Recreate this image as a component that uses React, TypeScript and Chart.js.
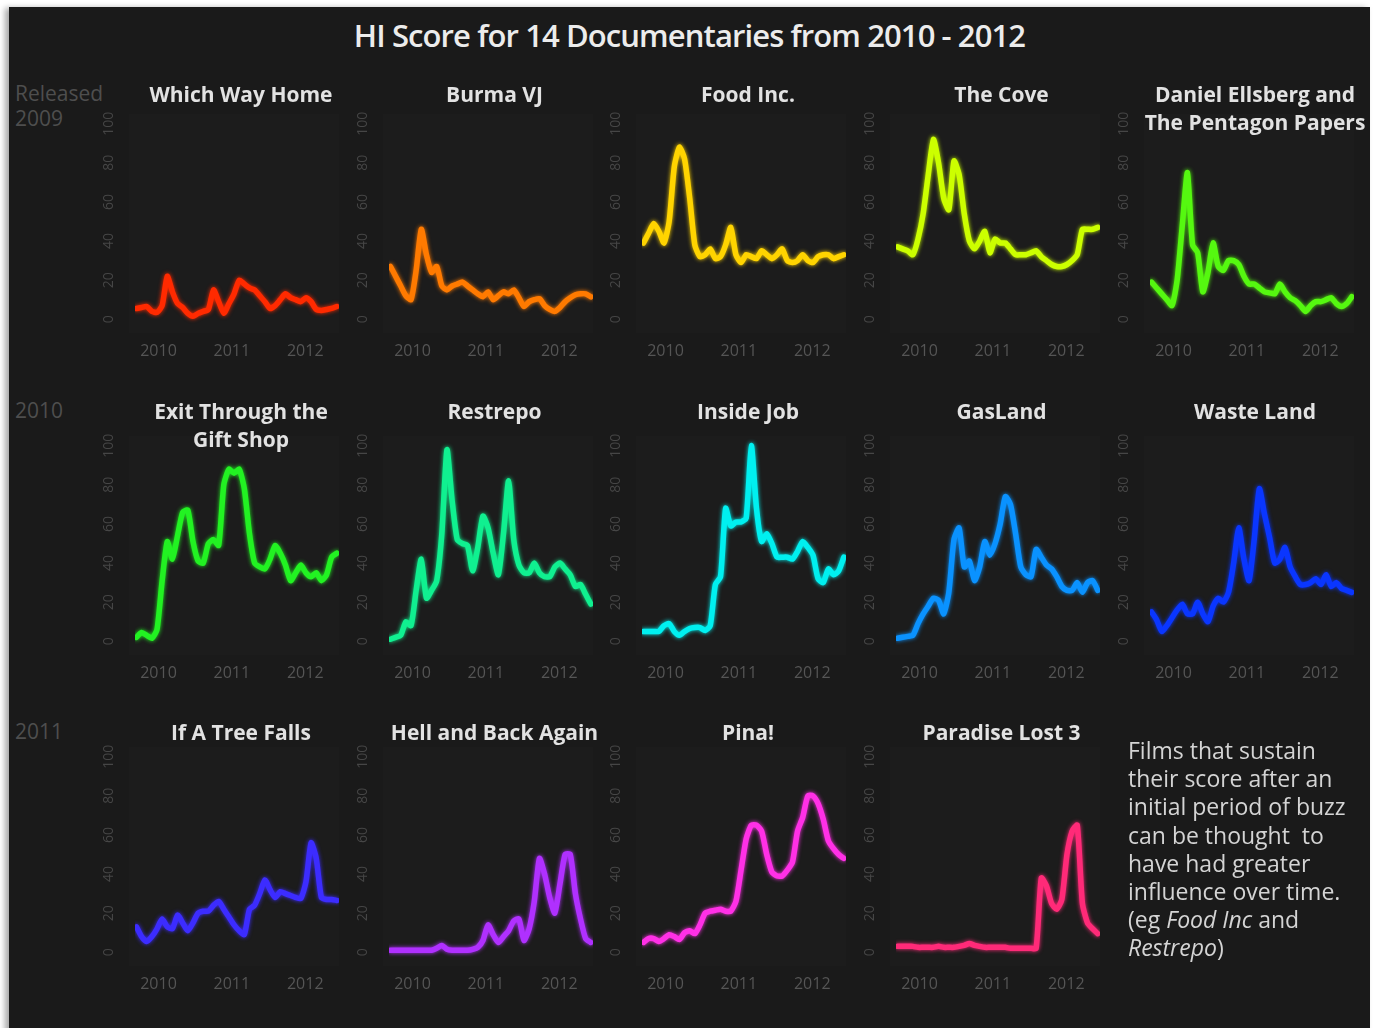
import React, { useEffect, useRef } from "react";
import { Chart, registerables } from "chart.js";

Chart.register(...registerables);

// ---------- data ----------
const timePoints = [
  2009.70, 2009.77, 2009.84, 2009.91, 2009.98, 2010.05, 2010.12, 2010.19, 2010.26, 2010.33,
  2010.40, 2010.47, 2010.54, 2010.61, 2010.68, 2010.75, 2010.82, 2010.89, 2010.96, 2011.03,
  2011.10, 2011.17, 2011.24, 2011.31, 2011.38, 2011.45, 2011.52, 2011.59, 2011.66, 2011.73,
  2011.80, 2011.87, 2011.94, 2012.01, 2012.08, 2012.15, 2012.22, 2012.29, 2012.36, 2012.43,
];
const yearTicks = [2010, 2011, 2012];
const scoreTicks = [0, 20, 40, 60, 80, 100];
const releaseLabels = ["Released\n2009", "2010", "2011"];

const whichWayHome = [5.5, 6, 6.5, 4, 3.5, 7, 22, 14, 8, 6, 3, 1.5, 3, 4, 5, 15, 9, 3, 8, 13, 20, 18, 16, 15, 12, 9, 5.5, 7, 10, 13, 11, 10, 9, 11, 9, 5, 4.5, 5, 5.5, 6.5];
const burmaVJ = [27, 22, 17, 12, 10, 25, 46, 33, 24, 27, 17, 15, 17, 18, 19, 17, 15, 13, 11.5, 14, 10, 12, 14, 13, 15, 11, 6.5, 9, 10, 10.5, 7, 5, 4, 6, 9, 11, 12.5, 13, 13, 11.5];
const foodInc = [39, 44, 49, 45, 39, 50, 78, 88, 82, 62, 38, 32, 33, 36, 31, 32, 38, 47, 33, 29, 33, 32, 31, 35, 33, 31, 33, 36, 30, 29, 30, 33, 30, 29, 32, 33, 33, 31, 32, 33];
const theCove = [37, 36, 35, 33, 41, 54, 74, 92, 80, 62, 56, 81, 74, 54, 40, 36, 40, 45, 34, 41, 39, 39, 36, 33, 33, 33, 34, 35, 32, 30, 28, 27, 27, 28, 30, 33, 46, 46, 46, 47];
const danielEllsberg = [19, 16, 13, 10, 7, 20, 48, 75, 38, 34, 14, 24, 39, 27, 25, 30, 30, 28, 22, 18, 18, 16, 14, 13.5, 13, 18, 14, 11, 9.5, 7, 4, 7, 9, 9, 10, 11, 8, 6.5, 8, 11.5];

const exitThroughGiftShop = [2, 4.5, 3, 1.5, 6, 31, 51, 42, 54, 66, 67, 51, 41, 40, 50, 52, 49, 80, 88, 86, 88, 78, 55, 40, 38, 37, 42, 49, 45, 39, 31, 35, 39, 35, 33, 35, 31, 34, 43, 45];
const restrepo = [1, 2, 3, 10, 8, 26, 42, 22, 26, 31, 55, 98, 72, 52, 50, 49, 36, 48, 64, 58, 45, 34, 55, 82, 52, 39, 35, 35, 40, 35, 33, 33, 38, 40, 37, 34, 28, 29, 24, 19];
const insideJob = [5, 5, 5, 5, 8, 9, 5, 3, 5, 6.5, 7, 7, 5.5, 8, 29, 33, 68, 59, 61, 61, 63, 100, 68, 51, 55, 50, 43, 43, 43, 42, 46, 51, 48, 44, 32, 30, 37, 34, 36, 43];
const gasLand = [1.5, 2, 2.5, 3, 9, 14, 18, 22, 21, 14, 25, 52, 58, 38, 41, 31, 38, 51, 44, 50, 60, 74, 70, 55, 38, 34, 33, 47, 43, 39, 37, 33, 28, 26, 26, 30, 25, 30, 31, 26];
const wasteLand = [15, 11, 5, 8, 12, 16, 19, 14, 14, 20, 14, 10, 18, 22, 20, 25, 40, 58, 42, 31, 52, 78, 65, 53, 40, 42, 48, 38, 33, 29, 29, 30, 32, 29, 34, 28, 30, 27, 26, 25];

const ifATreeFalls = [13, 8, 5.5, 8, 12, 17, 13, 12, 19, 15, 11, 15, 20, 21, 21, 24, 26, 22, 18, 14, 11, 9, 22, 24, 30, 37, 32, 28, 31, 30, 29, 28, 27.5, 36, 56, 48, 28, 27, 27, 26.5];
const hellAndBackAgain = [1, 1, 1, 1, 1, 1, 1, 1, 1, 2, 3.5, 1.5, 1, 1, 1, 1, 1.5, 2.5, 6, 14, 9, 5, 8, 11, 16, 17, 6, 12, 26, 48, 40, 28, 20, 35, 50, 50, 30, 17, 7, 5];
const pina = [5, 7, 7, 5.5, 7, 9, 8, 6.5, 10, 11, 9.5, 14, 20, 21, 21.5, 22, 21, 21, 26, 42, 58, 65, 65, 62, 50, 41, 39, 39, 42, 46, 62, 69, 80, 80, 76, 68, 57, 53, 50, 48];
const paradiseLost3 = [3, 3, 3, 3, 2.5, 2.5, 2.5, 2.5, 3, 2.5, 2.5, 2.5, 3, 3.5, 4.5, 3.5, 3, 2.5, 2.5, 2.5, 2.5, 2.5, 2, 2, 2, 2, 2, 2, 38, 34, 25, 22, 27, 50, 62, 65, 25, 15, 12, 9.5];

type Film = { title: string; color: string; values: number[] };

const released2009: Film[] = [
  { title: "Which Way Home", color: "#ff2a00", values: whichWayHome },
  { title: "Burma VJ", color: "#ff7a00", values: burmaVJ },
  { title: "Food Inc.", color: "#ffd400", values: foodInc },
  { title: "The Cove", color: "#ccff00", values: theCove },
  { title: "Daniel Ellsberg and\nThe Pentagon Papers", color: "#55f810", values: danielEllsberg },
];
const released2010: Film[] = [
  { title: "Exit Through the\nGift Shop", color: "#22f222", values: exitThroughGiftShop },
  { title: "Restrepo", color: "#10f090", values: restrepo },
  { title: "Inside Job", color: "#00f0f0", values: insideJob },
  { title: "GasLand", color: "#0a92ff", values: gasLand },
  { title: "Waste Land", color: "#0a36ff", values: wasteLand },
];
const released2011: Film[] = [
  { title: "If A Tree Falls", color: "#3c2cff", values: ifATreeFalls },
  { title: "Hell and Back Again", color: "#b030ff", values: hellAndBackAgain },
  { title: "Pina!", color: "#ff30e6", values: pina },
  { title: "Paradise Lost 3", color: "#ff2a78", values: paradiseLost3 },
];
const filmRows = [released2009, released2010, released2011];

// ---------- layout ----------
const FONT = "'Open Sans', 'DejaVu Sans', sans-serif";
const COL_STEP = 253.7;
const PLOT_LEFT0 = 135;
const PLOT_W = 204;
const PLOT_H = 215;
const Y_AXIS_W = 40;
const X_AXIS_H = 40;
const TOP_PAD = 26;
const RIGHT_PAD = 8;
const ROW_ZERO = [319, 641, 952];
const ROW_TITLE_Y = [94, 411, 732];
const Y_MIN = -5;
const Y_MAX = 105;
const CANVAS_W = Y_AXIS_W + PLOT_W + RIGHT_PAD;
const CANVAS_H = TOP_PAD + PLOT_H + X_AXIS_H;

const plotBg = {
  id: "plotBg",
  beforeDraw(chart: any) {
    const { ctx, chartArea } = chart;
    ctx.save();
    ctx.fillStyle = "#1c1c1c";
    ctx.fillRect(chartArea.left - 6, chartArea.top, chartArea.width + 6, chartArea.height + 4);
    ctx.restore();
  },
};

const glow = {
  id: "glow",
  beforeDatasetsDraw(chart: any) {
    const ctx = chart.ctx;
    ctx.save();
    ctx.shadowColor = chart.data.datasets[0].borderColor;
    ctx.shadowBlur = 4;
  },
  afterDatasetsDraw(chart: any) {
    chart.ctx.restore();
  },
};

function Panel({ film, left, top }: { film: Film; left: number; top: number }) {
  const ref = useRef<HTMLCanvasElement>(null);
  useEffect(() => {
    const chart = new Chart(ref.current as HTMLCanvasElement, {
      type: "line",
      data: {
        datasets: [
          {
            data: timePoints.map((t, i) => ({ x: t, y: film.values[i] })),
            borderColor: film.color,
            borderWidth: 5.5,
            pointRadius: 0,
            tension: 0.2,
            borderCapStyle: "round",
            borderJoinStyle: "round",
            fill: false,
          },
        ],
      },
      options: {
        animation: false,
        responsive: false,
        maintainAspectRatio: false,
        devicePixelRatio: 1,
        layout: { padding: { top: TOP_PAD, right: RIGHT_PAD, left: 0, bottom: 0 } },
        plugins: {
          legend: { display: false },
          title: { display: false },
          tooltip: { enabled: false },
        },
        scales: {
          x: {
            type: "linear",
            min: 2009.68,
            max: 2012.46,
            grid: { display: false, drawTicks: false },
            border: { display: false },
            afterBuildTicks: (s: any) => {
              s.ticks = yearTicks.map((v) => ({ value: v }));
            },
            afterFit: (s: any) => {
              s.height = X_AXIS_H;
            },
            ticks: {
              color: "#555555",
              font: { family: FONT, size: 16 },
              padding: 13,
              maxRotation: 0,
              autoSkip: false,
              callback: (v: any) => String(v),
            },
          },
          y: {
            type: "linear",
            min: Y_MIN,
            max: Y_MAX,
            grid: { display: false, drawTicks: false },
            border: { display: false },
            afterBuildTicks: (s: any) => {
              s.ticks = scoreTicks.map((v) => ({ value: v }));
            },
            afterFit: (s: any) => {
              s.width = Y_AXIS_W;
            },
            ticks: {
              color: "#464646",
              font: { family: FONT, size: 14 },
              padding: 14,
              minRotation: 90,
              maxRotation: 90,
              crossAlign: "center",
              autoSkip: false,
              callback: (v: any) => String(v),
            },
          },
        },
      } as any,
      plugins: [plotBg, glow],
    });
    return () => chart.destroy();
  }, [film]);
  return (
    <canvas
      ref={ref}
      width={CANVAS_W}
      height={CANVAS_H}
      style={{ position: "absolute", left, top, width: CANVAS_W, height: CANVAS_H }}
    />
  );
}

export default function App() {
  const panels: React.ReactNode[] = [];
  filmRows.forEach((row, r) => {
    row.forEach((film, c) => {
      const plotLeft = PLOT_LEFT0 + COL_STEP * c;
      const zero = ROW_ZERO[r];
      const plotTop = zero - (Y_MAX / (Y_MAX - Y_MIN)) * PLOT_H;
      panels.push(
        <Panel key={`p${r}-${c}`} film={film} left={plotLeft - Y_AXIS_W} top={plotTop - TOP_PAD} />
      );
      const cx = 241 + 253.5 * c;
      panels.push(
        <div
          key={`t${r}-${c}`}
          style={{
            position: "absolute",
            left: cx - 140,
            width: 280,
            top: ROW_TITLE_Y[r] - 14,
            textAlign: "center",
            fontFamily: FONT,
            fontWeight: 700,
            fontSize: 21,
            lineHeight: "28px",
            color: "#e2e2e2",
            whiteSpace: "pre",
          }}
        >
          {film.title}
        </div>
      );
    });
  });

  return (
    <div style={{ position: "relative", width: 1373, height: 1028, overflow: "hidden", background: "#ffffff" }}>
      <style>{`body{margin:0;}`}</style>
      <div
        style={{
          position: "absolute",
          left: 9,
          top: 7,
          width: 1361,
          height: 1040,
          background: "#1a1a1a",
          boxShadow: "-4px 1px 6px rgba(0,0,0,0.35)",
        }}
      />
      <div
        style={{
          position: "absolute",
          left: 9,
          width: 1361,
          top: 15,
          textAlign: "center",
          fontFamily: FONT,
          fontWeight: 600,
          fontSize: 31,
          letterSpacing: "-0.9px",
          lineHeight: "40px",
          color: "#ececec",
        }}
      >
        HI Score for 14 Documentaries from 2010 - 2012
      </div>
      {releaseLabels.map((lab, r) => (
        <div
          key={`r${r}`}
          style={{
            position: "absolute",
            left: 15,
            top: ROW_TITLE_Y[r] - 13,
            fontFamily: FONT,
            fontSize: 21,
            lineHeight: "25px",
            color: "#4e4e4e",
            whiteSpace: "pre",
          }}
        >
          {lab}
        </div>
      ))}
      {panels}
      <div
        style={{
          position: "absolute",
          left: 1128,
          top: 736,
          width: 240,
          fontFamily: FONT,
          fontSize: 23,
          lineHeight: "28.2px",
          color: "#d4d4d4",
          whiteSpace: "pre",
        }}
      >
        {"Films that sustain\ntheir score after an\ninitial period of buzz\ncan be thought  to\nhave had greater\ninfluence over time.\n(eg "}
        <i>Food Inc</i>
        {" and\n"}
        <i>Restrepo</i>
        {")"}
      </div>
    </div>
  );
}
